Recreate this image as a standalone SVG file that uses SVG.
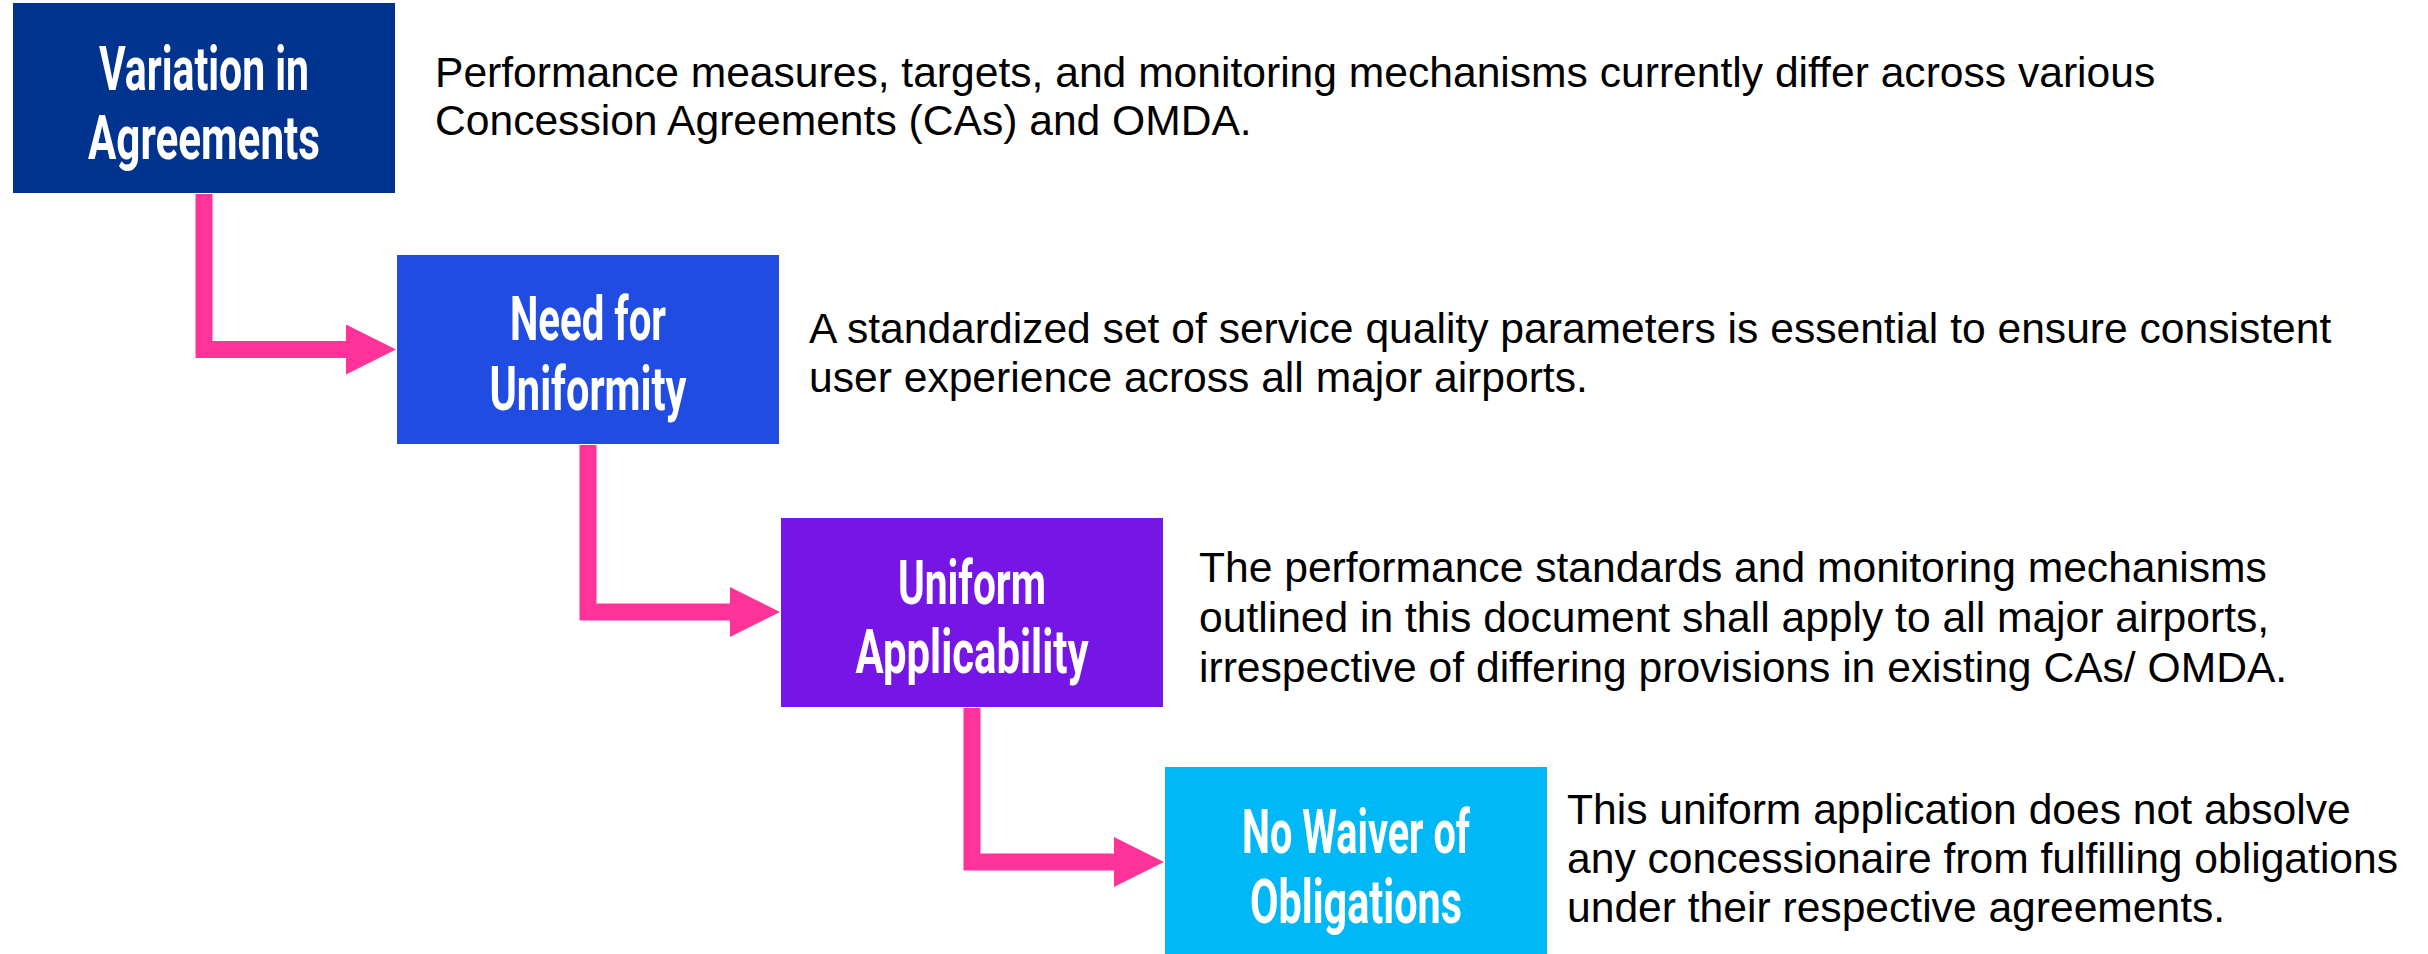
<svg xmlns="http://www.w3.org/2000/svg" width="2428" height="954" viewBox="0 0 2428 954">
<style>
.title{font-family:Roboto,"Liberation Sans",sans-serif;font-weight:bold;font-size:61px;fill:#fff;text-anchor:middle}
.body{font-family:"Liberation Sans",Arial,sans-serif;font-size:42.6px;fill:#000}
.conn{fill:none;stroke:#FF3399;stroke-width:17;stroke-linejoin:miter}
</style>
<defs>
<marker id="arrow" markerUnits="userSpaceOnUse" markerWidth="50" markerHeight="50" refX="0" refY="25" orient="auto" viewBox="0 0 50 50">
<path d="M0,0 L50,25 L0,50 z" fill="#FF3399"/>
</marker>
</defs>
<rect width="2428" height="954" fill="#fff"/>
<g id="connectors">
<path class="conn" d="M204,194 V349.5 H346" marker-end="url(#arrow)"/>
<path class="conn" d="M588,445 V612 H730" marker-end="url(#arrow)"/>
<path class="conn" d="M972,708 V862 H1114" marker-end="url(#arrow)"/>
</g>
<g id="node1">
<rect x="13" y="3" width="382" height="190" fill="#00338D"/>
<text class="title" x="204" y="90" textLength="210" lengthAdjust="spacingAndGlyphs">Variation in</text>
<text class="title" x="204" y="159" textLength="232" lengthAdjust="spacingAndGlyphs">Agreements</text>
</g>
<g id="node1-desc">
<text class="body" x="435" y="87">Performance measures, targets, and monitoring mechanisms currently differ across various</text>
<text class="body" x="435" y="135">Concession Agreements (CAs) and OMDA.</text>
</g>
<g id="node2">
<rect x="397" y="255" width="382" height="189" fill="#214CE2"/>
<text class="title" x="588" y="340" textLength="156" lengthAdjust="spacingAndGlyphs">Need for</text>
<text class="title" x="588" y="410" textLength="197" lengthAdjust="spacingAndGlyphs">Uniformity</text>
</g>
<g id="node2-desc">
<text class="body" x="809" y="343">A standardized set of service quality parameters is essential to ensure consistent</text>
<text class="body" x="809" y="392">user experience across all major airports.</text>
</g>
<g id="node3">
<rect x="781" y="518" width="382" height="189" fill="#7516E7"/>
<text class="title" x="972" y="604" textLength="148" lengthAdjust="spacingAndGlyphs">Uniform</text>
<text class="title" x="972" y="673" textLength="233" lengthAdjust="spacingAndGlyphs">Applicability</text>
</g>
<g id="node3-desc">
<text class="body" x="1199" y="582">The performance standards and monitoring mechanisms</text>
<text class="body" x="1199" y="632">outlined in this document shall apply to all major airports,</text>
<text class="body" x="1199" y="682">irrespective of differing provisions in existing CAs/ OMDA.</text>
</g>
<g id="node4">
<rect x="1165" y="767" width="382" height="189" fill="#00B8F5"/>
<text class="title" x="1356" y="853" textLength="228" lengthAdjust="spacingAndGlyphs">No Waiver of</text>
<text class="title" x="1356" y="923" textLength="212" lengthAdjust="spacingAndGlyphs">Obligations</text>
</g>
<g id="node4-desc">
<text class="body" x="1567" y="824">This uniform application does not absolve</text>
<text class="body" x="1567" y="873">any concessionaire from fulfilling obligations</text>
<text class="body" x="1567" y="922">under their respective agreements.</text>
</g>
</svg>
